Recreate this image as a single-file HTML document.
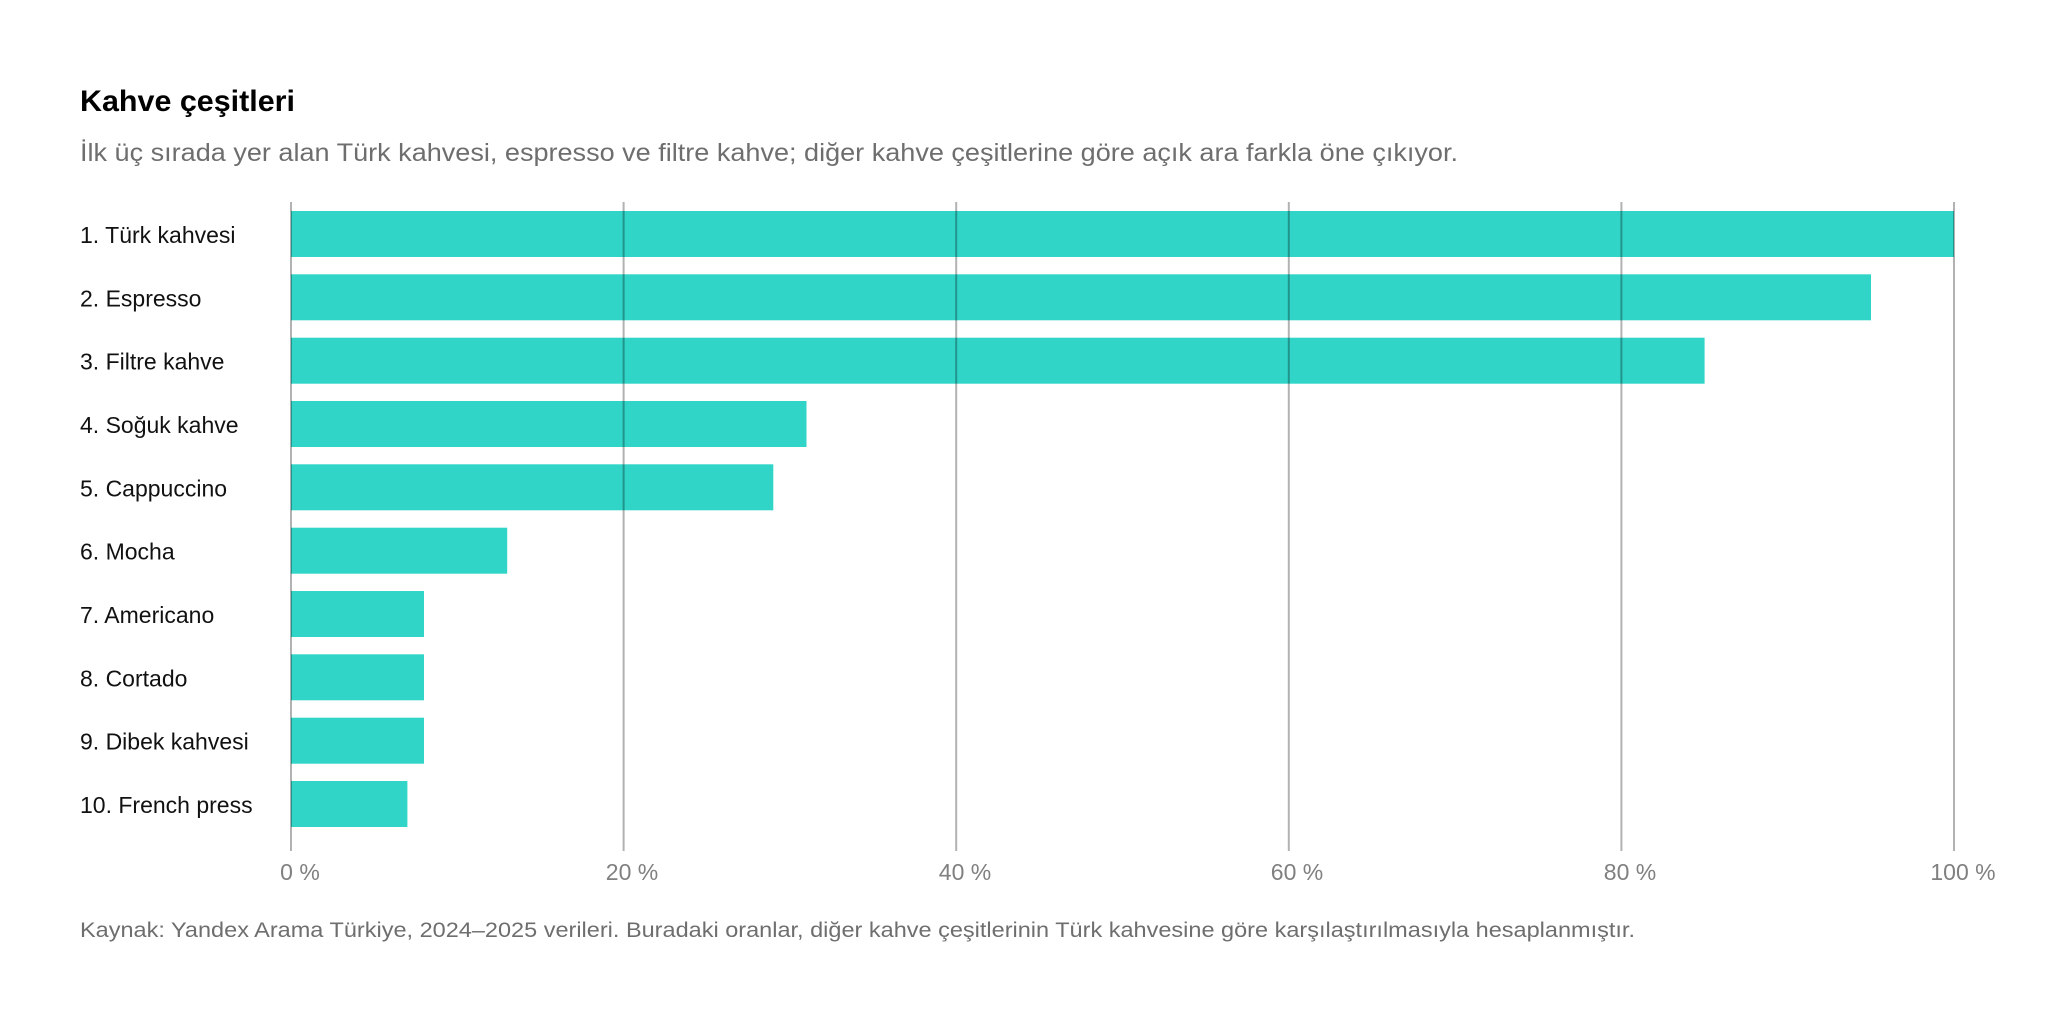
<!DOCTYPE html>
<html><head><meta charset="utf-8">
<style>
html,body{margin:0;padding:0;background:#fff;}
svg{display:block;}
text{font-family:"Liberation Sans",sans-serif;}
</style></head>
<body>
<svg width="2048" height="1024" viewBox="0 0 2048 1024" xmlns="http://www.w3.org/2000/svg">
<rect width="2048" height="1024" fill="#fff"/>
<text x="80" y="111" font-size="30" font-weight="bold" fill="#000" textLength="215" lengthAdjust="spacingAndGlyphs">Kahve çeşitleri</text>
<text x="80" y="161" font-size="25" fill="#6e6e6e" textLength="1378" lengthAdjust="spacingAndGlyphs">İlk üç sırada yer alan Türk kahvesi, espresso ve filtre kahve; diğer kahve çeşitlerine göre açık ara farkla öne çıkıyor.</text>

<g fill="#30d5c8">
<rect x="291" y="211" width="1663" height="46"/>
<rect x="291" y="274.3" width="1580" height="46"/>
<rect x="291" y="337.7" width="1413.6" height="46"/>
<rect x="291" y="401" width="515.5" height="46"/>
<rect x="291" y="464.3" width="482.3" height="46"/>
<rect x="291" y="527.7" width="216.2" height="46"/>
<rect x="291" y="591" width="133" height="46"/>
<rect x="291" y="654.3" width="133" height="46"/>
<rect x="291" y="717.7" width="133" height="46"/>
<rect x="291" y="781" width="116.4" height="46"/>
</g>
<g stroke="#000" stroke-opacity="0.3" stroke-width="2">
<line x1="291" y1="202" x2="291" y2="851"/>
<line x1="623.6" y1="202" x2="623.6" y2="851"/>
<line x1="956.2" y1="202" x2="956.2" y2="851"/>
<line x1="1288.8" y1="202" x2="1288.8" y2="851"/>
<line x1="1621.4" y1="202" x2="1621.4" y2="851"/>
<line x1="1954" y1="202" x2="1954" y2="851"/>
</g>
<g font-size="23" fill="#111">
<text x="80" y="243">1. Türk kahvesi</text>
<text x="80" y="306.3">2. Espresso</text>
<text x="80" y="369.7">3. Filtre kahve</text>
<text x="80" y="433">4. Soğuk kahve</text>
<text x="80" y="496.3">5. Cappuccino</text>
<text x="80" y="559.7">6. Mocha</text>
<text x="80" y="623">7. Americano</text>
<text x="80" y="686.3">8. Cortado</text>
<text x="80" y="749.7">9. Dibek kahvesi</text>
<text x="80" y="813">10. French press</text>
</g>
<g font-size="23" fill="#808080" text-anchor="middle">
<text x="300" y="880">0 %</text>
<text x="632" y="880">20 %</text>
<text x="965" y="880">40 %</text>
<text x="1297" y="880">60 %</text>
<text x="1630" y="880">80 %</text>
<text x="1963" y="880">100 %</text>
</g>
<text x="80" y="937" font-size="21" fill="#6e6e6e" textLength="1555" lengthAdjust="spacingAndGlyphs">Kaynak: Yandex Arama Türkiye, 2024–2025 verileri. Buradaki oranlar, diğer kahve çeşitlerinin Türk kahvesine göre karşılaştırılmasıyla hesaplanmıştır.</text>
</svg>
</body></html>
